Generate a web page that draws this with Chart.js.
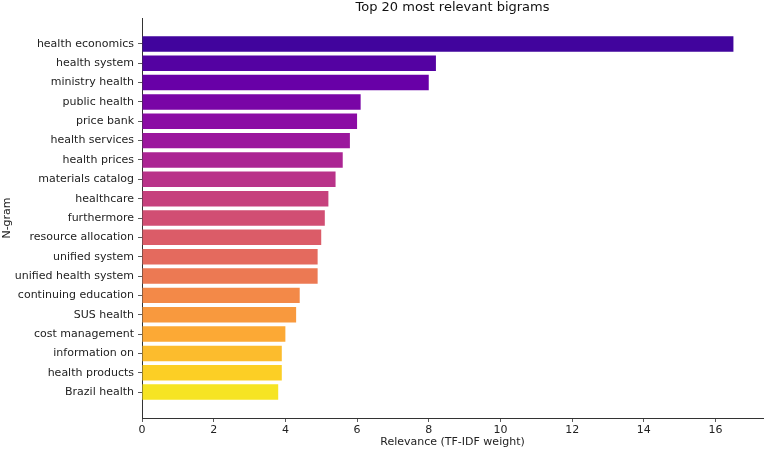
<!DOCTYPE html>
<html>
<head>
<meta charset="utf-8">
<script src="https://cdn.jsdelivr.net/npm/chart.js@4"></script>
<style>
  body { margin: 0; background: #fff; }
  #wrap { width: 767px; height: 452px; }
</style>
</head>
<body>
<div id="wrap"><canvas id="bigramChart"></canvas></div>
<script>
// data
const bigrams = [
    "health economics", "health system", "ministry health", "public health",
    "price bank", "health services", "health prices", "materials catalog",
    "healthcare", "furthermore", "resource allocation", "unified system",
    "unified health system", "continuing education", "SUS health",
    "cost management", "information on", "health products", "Brazil health"
];
const relevance = [
    16.5, 8.2, 8.0, 6.1,
    6.0, 5.8, 5.6, 5.4,
    5.2, 5.1, 5.0, 4.9,
    4.9, 4.4, 4.3,
    4.0, 3.9, 3.9, 3.8
];
const xTicks = [0, 2, 4, 6, 8, 10, 12, 14, 16];

// plasma colormap (approx)
const plasmaStops = ['#0d0887','#41049d','#6a00a8','#8f0da4','#b12a90','#cc4778',
                     '#e16462','#f2844b','#fca636','#fcce25','#f0f921'];
function hexToRgb(h) {
    return [parseInt(h.slice(1,3),16), parseInt(h.slice(3,5),16), parseInt(h.slice(5,7),16)];
}
function plasma(t) {
    const p = t * (plasmaStops.length - 1);
    const i = Math.min(Math.floor(p), plasmaStops.length - 2);
    const f = p - i;
    const a = hexToRgb(plasmaStops[i]), b = hexToRgb(plasmaStops[i + 1]);
    const c = a.map((v, k) => Math.round(v + (b[k] - v) * f));
    return `rgb(${c[0]}, ${c[1]}, ${c[2]})`;
}
const barColors = bigrams.map((_, i) => plasma(0.1 + i * 0.85 / (bigrams.length - 1)));

Chart.defaults.font.family = "'DejaVu Sans', sans-serif";
Chart.defaults.color = "#222";

// title centred over the plot area, like matplotlib
const plotTitle = {
    id: "plotTitle",
    afterDraw(chart) {
        const ctx = chart.ctx;
        const area = chart.chartArea;
        ctx.save();
        ctx.font = "13px 'DejaVu Sans'";
        ctx.fillStyle = "#111";
        ctx.textAlign = "center";
        ctx.textBaseline = "middle";
        ctx.fillText("Top 20 most relevant bigrams", (area.left + area.right) / 2, 8);
        ctx.restore();
    }
};

const n = bigrams.length;
const xMax = Math.max(...relevance) * 1.05;
const yPad = 0.4 + 0.05 * (n - 1 + 0.8);

new Chart("bigramChart", {
    type: "bar",
    data: {
        datasets: [{
            data: relevance.map((v, i) => ({ x: v, y: i })),
            backgroundColor: barColors,
            borderWidth: 0,
            barPercentage: 0.8,
            categoryPercentage: 1
        }]
    },
    plugins: [plotTitle],
    options: {
        indexAxis: "y",
        responsive: true,
        maintainAspectRatio: false,
        animation: false,
        layout: { padding: { top: 18, right: 4, left: 0, bottom: 0 } },
        plugins: {
            legend: { display: false },
            tooltip: { enabled: false }
        },
        scales: {
            x: {
                type: "linear",
                min: 0,
                max: xMax,
                afterFit: scale => { scale.height = 34; },
                afterBuildTicks: scale => {
                    scale.ticks = xTicks.filter(v => v <= xMax).map(v => ({ value: v }));
                },
                ticks: { font: { size: 11 }, padding: 2, color: "#222", maxRotation: 0 },
                grid: { drawOnChartArea: false, tickLength: 4, color: "#333", tickWidth: 0.8 },
                border: { color: "#333", width: 1 },
                title: {
                    display: true,
                    text: "Relevance (TF-IDF weight)",
                    font: { size: 11 },
                    color: "#222",
                    padding: { top: 0, bottom: 3 }
                }
            },
            y: {
                type: "linear",
                reverse: true,
                offset: false,
                min: -yPad,
                max: n - 1 + yPad,
                afterFit: scale => { scale.width = 142; },
                afterBuildTicks: scale => {
                    scale.ticks = bigrams.map((_, i) => ({ value: i }));
                },
                ticks: {
                    font: { size: 11 },
                    padding: 4,
                    color: "#222",
                    autoSkip: false,
                    callback: v => bigrams[v]
                },
                grid: { offset: false, drawOnChartArea: false, tickLength: 4, color: "#333", tickWidth: 0.8 },
                border: { color: "#333", width: 1 },
                title: {
                    display: true,
                    text: "N-gram",
                    font: { size: 11 },
                    color: "#222",
                    padding: { top: 1, bottom: 0 }
                }
            }
        }
    }
});
</script>
</body>
</html>
